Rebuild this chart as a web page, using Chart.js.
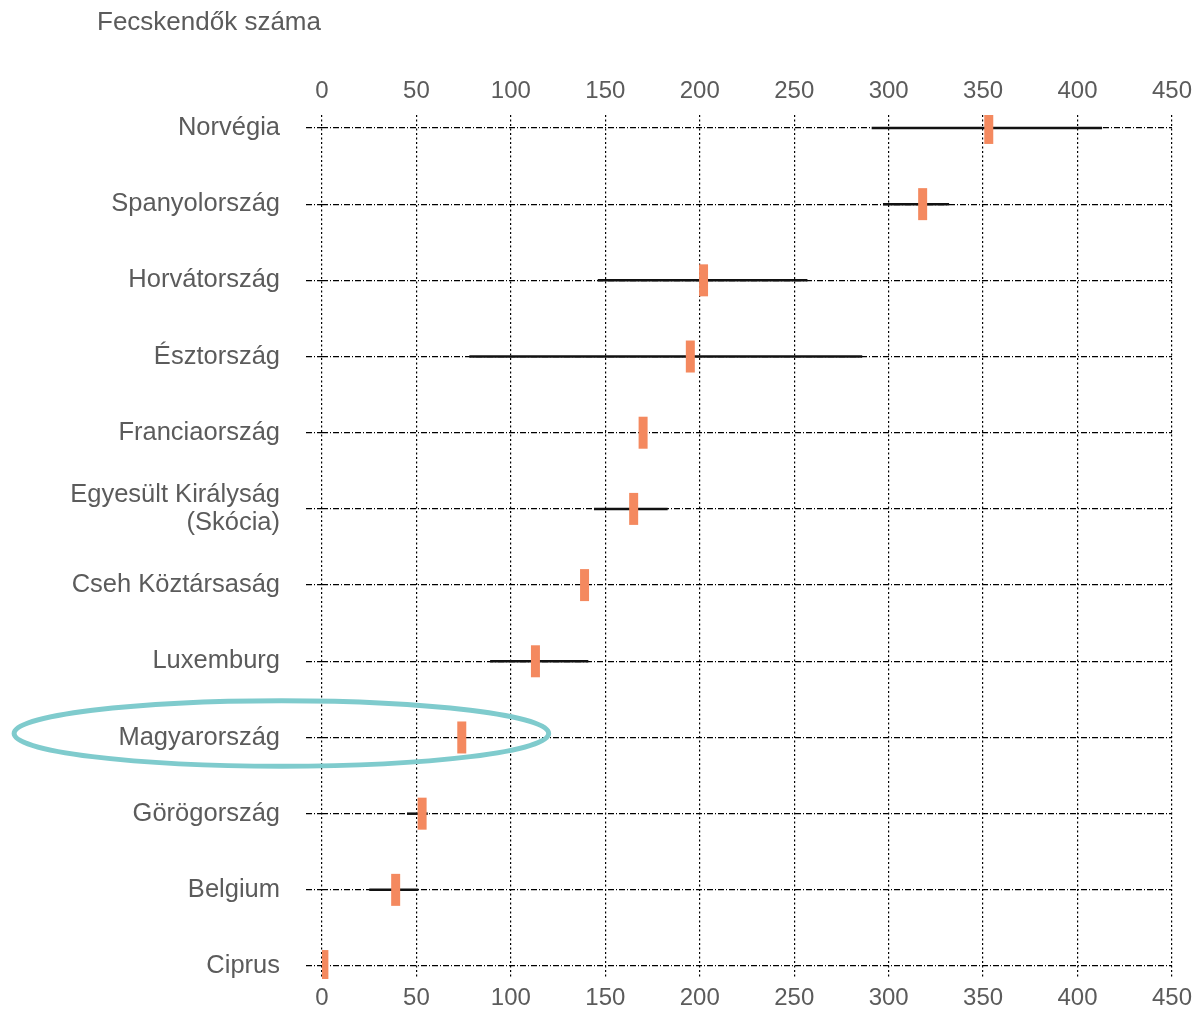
<!doctype html>
<html>

<head>
    <meta charset="utf-8">
    <title>Fecskendők száma</title>
    <script src="https://cdn.jsdelivr.net/npm/chart.js"></script>
    <style>
        body {
            margin: 0;
            padding: 0;
            background-color: #ffffff;
        }

        #box {
            width: 1201px;
            height: 1009px;
        }
    </style>
</head>

<body>
    <div id="box"><canvas id="fecskendok"></canvas></div>

    <script>
        // orszagok, fentrol lefele
        var orszagok = ['Norvégia', 'Spanyolország', 'Horvátország', 'Észtország', 'Franciaország',
            ['Egyesült Királyság', '(Skócia)'], 'Cseh Köztársaság', 'Luxemburg', 'Magyarország',
            'Görögország', 'Belgium', 'Ciprus'];
        // becsult ertek (narancs jel)
        var ertekek = [353, 318, 202, 195, 170, 165, 139, 113, 74, 53, 39, 1];
        // tartomany also es felso hatara (fekete vonal), null = nincs
        var also = [291, 297, 146, 78, null, 144, null, 89, null, 45, 25, null];
        var felso = [413, 332, 257, 286, null, 183, null, 141, null, 56, 51, null];
        var xTickek = [0, 50, 100, 150, 200, 250, 300, 350, 400, 450];
        var cim = 'Fecskendők száma';
        var kiemelt = 'Magyarország';

        var betu = { family: 'Liberation Sans', size: 25.5, lineHeight: 1.1 };
        var szamBetu = { family: 'Liberation Sans', size: 24 };
        var szurke = '#5b5b5b';

        var tartomanyok = [];
        orszagok.forEach(function (o, i) {
            if (also[i] == null) return;
            tartomanyok.push({
                type: 'line',
                data: [{ x: also[i], y: i }, { x: felso[i], y: i }],
                borderColor: '#111111',
                borderWidth: 2.5,
                pointRadius: 0,
                order: 2
            });
        });

        // cim + kiemeles ellipszissel
        var rajz = {
            id: 'rajz',
            afterDraw: function (chart) {
                var x = chart.scales.x, y = chart.scales.y;
                var ctx = chart.ctx;
                ctx.save();
                ctx.font = '26px "Liberation Sans"';
                ctx.fillStyle = szurke;
                ctx.textBaseline = 'middle';
                ctx.fillText(cim, 97, 23);

                var idx = orszagok.indexOf(kiemelt);
                var cy = y.getPixelForValue(idx) - 4;
                var cx = x.getPixelForValue(-21.5);
                var rx = x.getPixelForValue(120) - cx;
                var ry = (y.getPixelForValue(1) - y.getPixelForValue(0)) * 0.43;
                ctx.beginPath();
                ctx.ellipse(cx, cy, rx, ry, 0, 0, Math.PI * 2);
                ctx.lineWidth = 5;
                ctx.strokeStyle = '#7fcbcd';
                ctx.stroke();
                ctx.restore();
            }
        };

        var tengelyX = function (hely, pad) {
            return {
                type: 'linear',
                position: hely,
                min: 0,
                max: 450,
                afterBuildTicks: function (s) { s.ticks = xTickek.map(function (v) { return { value: v }; }); },
                ticks: { font: szamBetu, color: szurke, padding: pad },
                border: { display: false, dash: [2, 2.5] },
                grid: { display: hely == 'bottom', color: '#000000', lineWidth: 1.2, drawTicks: false }
            };
        };

        var xAlso = tengelyX('bottom', 5);
        xAlso.afterFit = function (s) { s.height = 30; };
        var xFelso = tengelyX('top', 9);
        xFelso.afterFit = function (s) { s.height = 64; };

        new Chart(document.getElementById('fecskendok').getContext('2d'), {
            type: 'scatter',
            data: {
                datasets: [{
                    label: cim,
                    data: ertekek.map(function (v, i) { return { x: v, y: i }; }),
                    pointStyle: 'line',
                    rotation: 90,
                    radius: 16,
                    hoverRadius: 16,
                    borderWidth: 9,
                    hoverBorderWidth: 9,
                    borderColor: '#f4895f',
                    order: 1
                }].concat(tartomanyok)
            },
            options: {
                responsive: true,
                maintainAspectRatio: false,
                animation: false,
                layout: { padding: { left: 0, right: 22, top: 51, bottom: 0 } },
                plugins: {
                    legend: { display: false },
                    tooltip: { enabled: false },
                    title: { display: false }
                },
                scales: {
                    x: xAlso,
                    x2: xFelso,
                    y: {
                        type: 'linear',
                        reverse: true,
                        min: -0.17,
                        max: 11.17,
                        afterBuildTicks: function (s) { s.ticks = orszagok.map(function (o, i) { return { value: i }; }); },
                        afterFit: function (s) { s.width = 322; s.paddingTop = 0; s.paddingBottom = 0; },
                        ticks: {
                            font: betu,
                            color: szurke,
                            padding: 26,
                            callback: function (v) { return orszagok[v]; }
                        },
                        border: { display: false, dash: [6, 2, 1, 2] },
                        grid: { color: '#000000', lineWidth: 1.2, tickLength: 16, tickBorderDash: [6, 2, 1, 2] }
                    }
                }
            },
            plugins: [rajz]
        });
    </script>
</body>

</html>
